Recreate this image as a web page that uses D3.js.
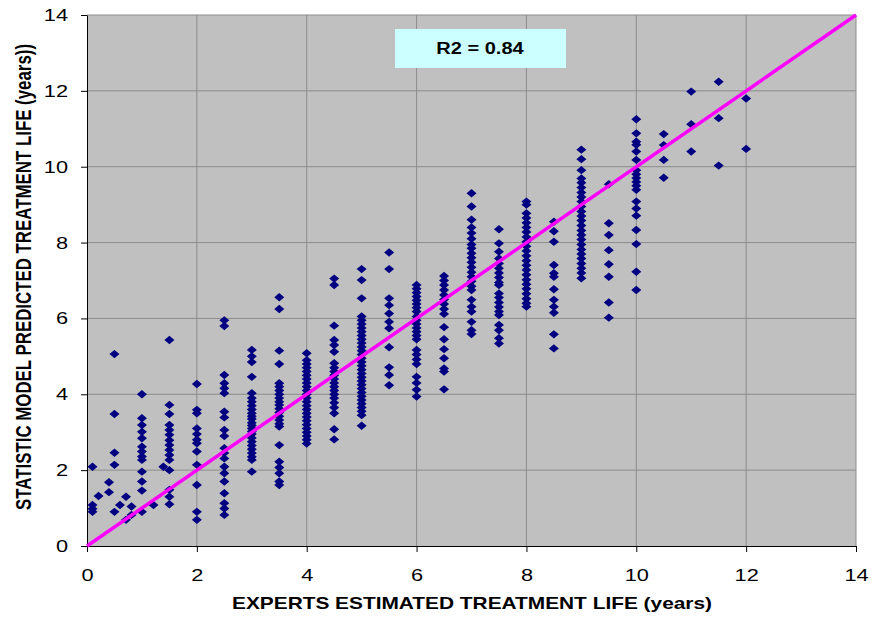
<!DOCTYPE html>
<meta charset="utf-8">
<style>

body {
	margin: 0;
	background: #fff;
	font-family: "Liberation Sans", Arial, sans-serif;
}

.axis path, .axis line {
	stroke: #000;
}

.grid line {
	stroke: #8c8c8c;
}

</style>
<svg width="873" height="617"></svg>
<script src="https://d3js.org/d3.v7.min.js"></script>
<script>

	// experts' estimate (x) and the model predictions (y)
	var expertLife = [0.1, 0.21, 0.4, 0.5, 0.6, 0.71, 0.81, 1, 1.21, 1.39, 1.5, 2, 2.5, 3, 3.5, 4,
		4.5, 5, 5.5, 6, 6.5, 7, 7.5, 8, 8.5, 9, 9.5, 10, 10.5, 11, 11.5, 12];

	var modelLife = [
		[2.09, 1.08, 0.98, 0.9],                                                      // 0.1
		[1.32],                                                                       // 0.21
		[1.68, 1.42],                                                                 // 0.4
		[5.06, 3.48, 2.46, 2.14, 0.9],                                                // 0.5
		[1.08],                                                                       // 0.6
		[1.3, 0.69],                                                                  // 0.71
		[1.04, 0.82],                                                                 // 0.81
		[4.0, 3.37, 3.19, 3.01, 2.84, 2.62, 2.49, 2.36, 2.27, 1.96, 1.7, 1.46, 0.9],  // 1
		[1.08],                                                                       // 1.21
		[2.09],                                                                       // 1.39
		[5.43, 3.72, 3.48, 3.19, 3.06, 2.93, 2.79, 2.66, 2.53, 2.4, 2.27, 2.0, 1.48, 1.3, 1.1], // 1.5
		[4.27, 3.59, 3.5, 3.1, 2.95, 2.8, 2.71, 2.49, 2.14, 1.61, 0.9, 0.69],          // 2
		[5.95, 5.8, 4.51, 4.29, 4.16, 4.03, 3.54, 3.39, 3.06, 2.9, 2.58, 2.45, 2.31, 2.09,
			1.92, 1.7, 1.39, 1.13, 0.99, 0.82],                                       // 2.5
		[5.17, 5.0, 4.85, 4.46, 4.03, 3.9, 3.8, 3.7, 3.6, 3.5, 3.42, 3.35, 3.25, 3.18, 3.1,
			3.02, 2.95, 2.85, 2.75, 2.65, 2.55, 2.45, 2.35, 2.27, 1.96],              // 3
		[6.56, 6.25, 5.15, 4.8, 4.29, 4.2, 4.1, 4.0, 3.9, 3.8, 3.72, 3.62, 3.52, 3.42, 3.32,
			3.22, 3.15, 2.66, 2.22, 2.07, 1.92, 1.7, 1.61],                           // 3.5
		[5.08, 4.9, 4.8, 4.7, 4.6, 4.5, 4.4, 4.3, 4.2, 4.1, 4.0, 3.9, 3.8, 3.7, 3.6, 3.5,
			3.4, 3.3, 3.2, 3.1, 3.0, 2.9, 2.8, 2.7],                                  // 4
		[7.05, 6.88, 5.81, 5.43, 5.3, 5.12, 4.82, 4.7, 4.6, 4.5, 4.4, 4.3, 4.2, 4.1, 4.0,
			3.9, 3.78, 3.65, 3.5, 3.08, 2.81],                                        // 4.5
		[7.3, 7.01, 6.53, 6.05, 5.95, 5.85, 5.75, 5.65, 5.55, 5.45, 5.35, 5.25, 5.15, 5.05,
			4.95, 4.85, 4.75, 4.65, 4.55, 4.45, 4.35, 4.25, 4.15, 4.05, 3.95, 3.85, 3.75,
			3.65, 3.55, 3.45, 3.17],                                                  // 5
		[7.74, 7.3, 6.53, 6.35, 6.13, 5.91, 5.74, 5.24, 4.71, 4.51, 4.24],            // 5.5
		[6.88, 6.78, 6.68, 6.58, 6.48, 6.38, 6.28, 6.18, 6.05, 5.95, 5.85, 5.75, 5.65, 5.55,
			5.45, 5.17, 5.05, 4.92, 4.8, 4.46, 4.3, 4.12, 3.94],                      // 6
		[7.12, 7.0, 6.88, 6.75, 6.62, 6.5, 6.38, 6.25, 6.12, 5.77, 5.45, 5.19, 4.95, 4.68,
			4.6, 4.13],                                                               // 6.5
		[9.3, 8.95, 8.6, 8.4, 8.25, 8.1, 7.95, 7.85, 7.72, 7.6, 7.48, 7.35, 7.22, 7.1, 6.98,
			6.85, 6.75, 6.49, 6.31, 6.18, 5.91, 5.69, 5.59],                          // 7
		[8.35, 7.98, 7.76, 7.58, 7.45, 7.32, 7.2, 7.08, 6.95, 6.88, 6.66, 6.55, 6.42, 6.3,
			6.18, 6.09, 5.83, 5.69, 5.48, 5.34],                                      // 7.5
		[9.08, 9.0, 8.77, 8.65, 8.52, 8.4, 8.28, 8.15, 8.02, 7.9, 7.78, 7.65, 7.52, 7.4, 7.28,
			7.15, 7.02, 6.9, 6.78, 6.65, 6.52, 6.4, 6.31],                            // 8
		[8.55, 8.3, 8.02, 7.41, 7.19, 7.1, 6.77, 6.49, 6.31, 6.15, 5.58, 5.21],        // 8.5
		[10.45, 10.2, 9.91, 9.69, 9.58, 9.45, 9.32, 9.2, 9.08, 8.95, 8.82, 8.7, 8.58, 8.45,
			8.32, 8.2, 8.08, 7.95, 7.82, 7.7, 7.58, 7.45, 7.32, 7.2, 7.06],            // 9
		[9.54, 8.51, 8.2, 7.8, 7.43, 7.1, 6.42, 6.02],                                // 9.5
		[11.25, 10.88, 10.66, 10.58, 10.4, 10.18, 9.91, 9.8, 9.7, 9.6, 9.5, 9.39, 9.08, 8.9,
			8.71, 8.33, 7.96, 7.23, 6.75],                                            // 10
		[10.86, 10.57, 10.18, 9.71],                                                  // 10.5
		[11.98, 11.12, 10.4],                                                         // 11
		[12.24, 11.28, 10.03],                                                        // 11.5
		[11.8, 10.47]                                                                 // 12
	];

	var axisTicks = [0, 2, 4, 6, 8, 10, 12, 14];
	var fitLine = [[0, 0], [14, 14]];
	var r2Label = "R2 = 0.84";

	var svg = d3.select("svg"),
		margin = {top: 15, right: 17, bottom: 71, left: 87},
		width = +svg.attr("width") - margin.left - margin.right,
		height = +svg.attr("height") - margin.top - margin.bottom;

	var x = d3.scaleLinear().domain([0, 14]).range([0, width]),
		y = d3.scaleLinear().domain([0, 14]).range([height, 0]);

	var points = [];
	expertLife.forEach(function(xv, i) {
		modelLife[i].forEach(function(yv) { points.push({x: xv, y: yv}); });
	});

	// stretch text horizontally, the original export is wider than plain Arial
	function stretch(sel, k) {
		sel.each(function() {
			var w = this.getComputedTextLength();
			d3.select(this).attr("textLength", w * k).attr("lengthAdjust", "spacingAndGlyphs");
		});
	}

	var g = svg.append("g")
		.attr("transform", "translate(" + margin.left + "," + margin.top + ")");

	g.append("rect")
		.attr("width", width)
		.attr("height", height)
		.attr("fill", "#c0c0c0");

	g.append("g")
		.attr("class", "grid")
	  .selectAll("line.h")
	  .data(axisTicks.slice(1))
	  .enter().append("line")
		.attr("x1", 0)
		.attr("x2", width)
		.attr("y1", function(d) { return y(d); })
		.attr("y2", function(d) { return y(d); });

	g.append("g")
		.attr("class", "grid")
	  .selectAll("line.v")
	  .data(axisTicks.slice(1))
	  .enter().append("line")
		.attr("y1", 0)
		.attr("y2", height)
		.attr("x1", function(d) { return x(d); })
		.attr("x2", function(d) { return x(d); });

	var xAxis = g.append("g")
		.attr("class", "axis")
		.attr("transform", "translate(0," + height + ")")
		.call(d3.axisBottom(x).tickValues(axisTicks).tickSize(6).tickSizeOuter(0).tickPadding(17));

	var yAxis = g.append("g")
		.attr("class", "axis")
		.call(d3.axisLeft(y).tickValues(axisTicks).tickSize(6).tickSizeOuter(0).tickPadding(13));

	svg.selectAll(".axis text")
		.attr("font-family", "'Liberation Sans', Arial, sans-serif")
		.attr("font-size", 17)
		.attr("fill", "#000")
		.call(stretch, 1.28);

	// diamonds
	g.append("g")
	  .selectAll("path")
	  .data(points)
	  .enter().append("path")
		.attr("transform", function(d) { return "translate(" + x(d.x) + "," + y(d.y) + ")"; })
		.attr("d", "M0,-4.2L5,0L0,4.2L-5,0Z")
		.attr("fill", "#000080");

	g.append("path")
		.datum(fitLine)
		.attr("d", d3.line().x(function(d) { return x(d[0]); }).y(function(d) { return y(d[1]); }))
		.attr("stroke", "#ff00ff")
		.attr("stroke-width", 3.5)
		.attr("fill", "none");

	// R2 box
	svg.append("rect")
		.attr("x", 395)
		.attr("y", 29)
		.attr("width", 171)
		.attr("height", 39)
		.attr("fill", "#ccffff");

	svg.append("text")
		.attr("x", 480)
		.attr("y", 54)
		.attr("text-anchor", "middle")
		.attr("font-weight", "bold")
		.attr("font-size", 16)
		.text(r2Label)
		.call(stretch, 1.25);

	svg.append("text")
		.attr("x", 472)
		.attr("y", 609)
		.attr("text-anchor", "middle")
		.attr("font-weight", "bold")
		.attr("font-size", 17)
		.attr("textLength", 480)
		.attr("lengthAdjust", "spacingAndGlyphs")
		.text("EXPERTS ESTIMATED TREATMENT LIFE (years)");

	svg.append("text")
		.attr("transform", "translate(31,277) rotate(-90) scale(1,1.45)")
		.attr("text-anchor", "middle")
		.attr("font-weight", "bold")
		.attr("font-size", 15)
		.attr("textLength", 466)
		.attr("lengthAdjust", "spacingAndGlyphs")
		.text("STATISTIC MODEL PREDICTED TREATMENT LIFE (years))");

</script>
